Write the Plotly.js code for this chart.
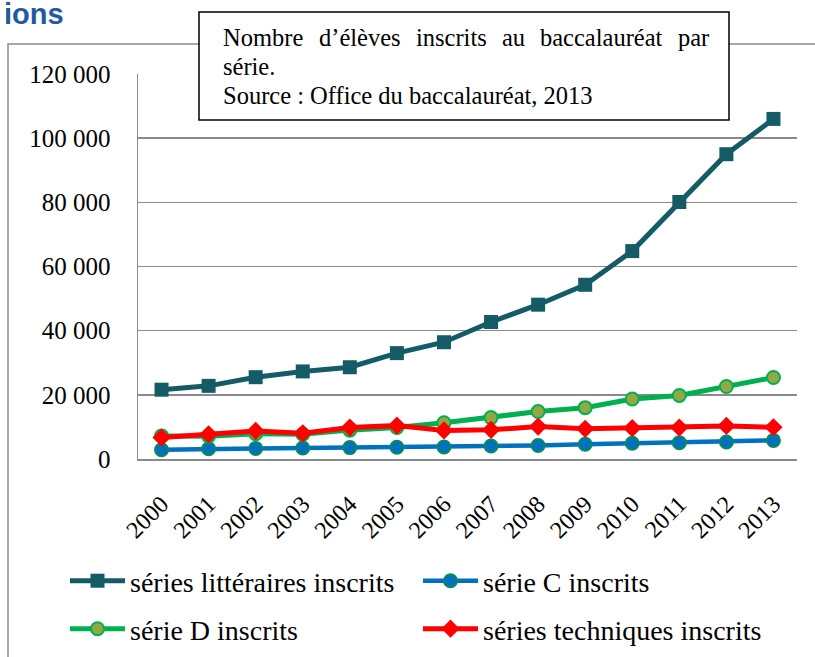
<!DOCTYPE html>
<html><head><meta charset="utf-8">
<script src="https://cdn.plot.ly/plotly-3.0.1.min.js"></script>
<style>html,body{margin:0;padding:0;background:#fff}#chart{width:815px;height:657px}</style>
</head><body><div id="chart"></div>
<script>
// ---- data ----
const years = ['2000','2001','2002','2003','2004','2005','2006','2007','2008','2009','2010','2011','2012','2013'];
const litteraires = [21600, 22800, 25500, 27300, 28600, 33000, 36400, 42700, 48100, 54300, 64800, 80100, 95000, 106000];
const serieC = [2900, 3200, 3300, 3450, 3550, 3650, 3750, 4050, 4200, 4600, 4900, 5100, 5300, 5800];
const serieD = [7200, 7100, 7900, 7700, 9000, 9800, 11300, 12900, 14800, 16000, 18700, 19800, 22600, 25400];
const techniques = [6700, 7700, 8750, 8000, 9800, 10400, 8900, 9100, 10100, 9400, 9600, 9800, 10300, 9900];
const seriesNames = ['séries littéraires inscrits', 'série C inscrits', 'série D inscrits', 'séries techniques inscrits'];
const yTicks = [0, 20000, 40000, 60000, 80000, 100000, 120000];
const boxLine1 = ['Nombre', 'd’élèves', 'inscrits', 'au', 'baccalauréat', 'par'];
const boxLine2 = 'série.';
const boxLine3 = 'Source : Office du baccalauréat, 2013';
const headingFragment = 'ions';

// ---- geometry helpers (pixel -> paper / container) ----
const W = 815, H = 657;
const L = 138, R = 797, T = 74, B = 459;
const px = x => (x - L) / (R - L);
const py = y => (B - y) / (B - T);
const cxr = x => x / W;
const cyr = y => 1 - y / H;

const serif = 'Liberation Serif';
const grid = '#8a8a8a';

const traces = [
  {x: years, y: litteraires, name: seriesNames[0], type: 'scatter', mode: 'lines+markers',
   line: {color: '#155B66', width: 5}, marker: {symbol: 'square', size: 14, color: '#155B66'}, legend: 'legend'},
  {x: years, y: serieC, name: seriesNames[1], type: 'scatter', mode: 'lines+markers',
   line: {color: '#0070C0', width: 4.5}, marker: {symbol: 'circle', size: 13, color: '#0070C0', line: {color: '#0A8A5C', width: 2}}, legend: 'legend2'},
  {x: years, y: serieD, name: seriesNames[2], type: 'scatter', mode: 'lines+markers',
   line: {color: '#00B050', width: 5}, marker: {symbol: 'circle', size: 13, color: '#93A842', line: {color: '#00B050', width: 2}}, legend: 'legend3'},
  {x: years, y: techniques, name: seriesNames[3], type: 'scatter', mode: 'lines+markers',
   line: {color: '#FF0000', width: 5}, marker: {symbol: 'diamond', size: 14, color: '#FF0000'}, legend: 'legend4'}
];

// justify first line of the note box using measured word widths
const boxFontSize = 24.5;
const ctx = document.createElement('canvas').getContext('2d');
ctx.font = boxFontSize + 'px "Liberation Serif"';
const widths = boxLine1.map(w => ctx.measureText(w).width);
const lineStart = 221, lineEnd = 707;
const gap = (lineEnd - lineStart - widths.reduce((a, b) => a + b, 0)) / (boxLine1.length - 1);
const annotations = [];
let cx = lineStart;
boxLine1.forEach((w, i) => {
  annotations.push({xref: 'paper', yref: 'paper', x: px(cx), y: py(37), xanchor: 'left', yanchor: 'middle',
    text: w, showarrow: false, font: {family: serif, size: boxFontSize, color: '#000'}});
  cx += widths[i] + gap;
});
annotations.push({xref: 'paper', yref: 'paper', x: px(lineStart), y: py(66), xanchor: 'left', yanchor: 'middle',
  text: boxLine2, showarrow: false, font: {family: serif, size: boxFontSize, color: '#000'}});
annotations.push({xref: 'paper', yref: 'paper', x: px(lineStart), y: py(95), xanchor: 'left', yanchor: 'middle',
  text: boxLine3, showarrow: false, font: {family: serif, size: boxFontSize, color: '#000'}});
annotations.push({xref: 'paper', yref: 'paper', x: px(2), y: py(-4), xanchor: 'left', yanchor: 'top',
  text: '<b>' + headingFragment + '</b>', showarrow: false, font: {family: 'Liberation Sans', size: 29, color: '#1F5C9E'}});

const legendBase = (x, y) => ({orientation: 'h', xref: 'container', yref: 'container', x: cxr(x), y: cyr(y),
  xanchor: 'left', yanchor: 'middle', itemwidth: 55, bgcolor: 'rgba(0,0,0,0)',
  font: {family: serif, size: 28, color: '#000'}});

const layout = {
  width: W, height: H,
  font: {family: serif, color: '#000'},
  margin: {l: L, r: W - R, t: T, b: H - B, pad: 0, autoexpand: false},
  paper_bgcolor: '#fff', plot_bgcolor: '#fff',
  separators: ', ',
  showlegend: true,
  xaxis: {type: 'category', range: [-0.5, 13.5], showgrid: false, zeroline: false, automargin: false,
    showline: true, linecolor: grid, linewidth: 1.5, ticks: '', tickangle: -45,
    tickfont: {family: serif, size: 24, color: '#000'}, ticklabelstandoff: 20, fixedrange: true},
  yaxis: {range: [0, 120000], tickvals: yTicks, tickformat: ',d', showgrid: true, gridcolor: grid, gridwidth: 1.5,
    zeroline: false, showline: true, linecolor: grid, linewidth: 1.5, ticks: '', automargin: false,
    tickfont: {family: serif, size: 25, color: '#000'}, ticklabelstandoff: 21, fixedrange: true},
  legend: legendBase(65, 581),
  legend2: legendBase(418, 581),
  legend3: legendBase(65, 629),
  legend4: legendBase(418, 629),
  shapes: [
    {type: 'rect', xref: 'paper', yref: 'paper', x0: px(8), x1: px(840), y0: py(700), y1: py(44),
     line: {color: '#8c8c8c', width: 1.5}, fillcolor: 'rgba(0,0,0,0)', layer: 'below'},
    {type: 'rect', xref: 'paper', yref: 'paper', x0: px(199), x1: px(729), y0: py(120), y1: py(12),
     line: {color: '#000', width: 1.5}, fillcolor: '#fff', layer: 'above'}
  ],
  annotations: annotations
};

Plotly.newPlot('chart', traces, layout, {displayModeBar: false, staticPlot: true});
</script>
</body></html>
